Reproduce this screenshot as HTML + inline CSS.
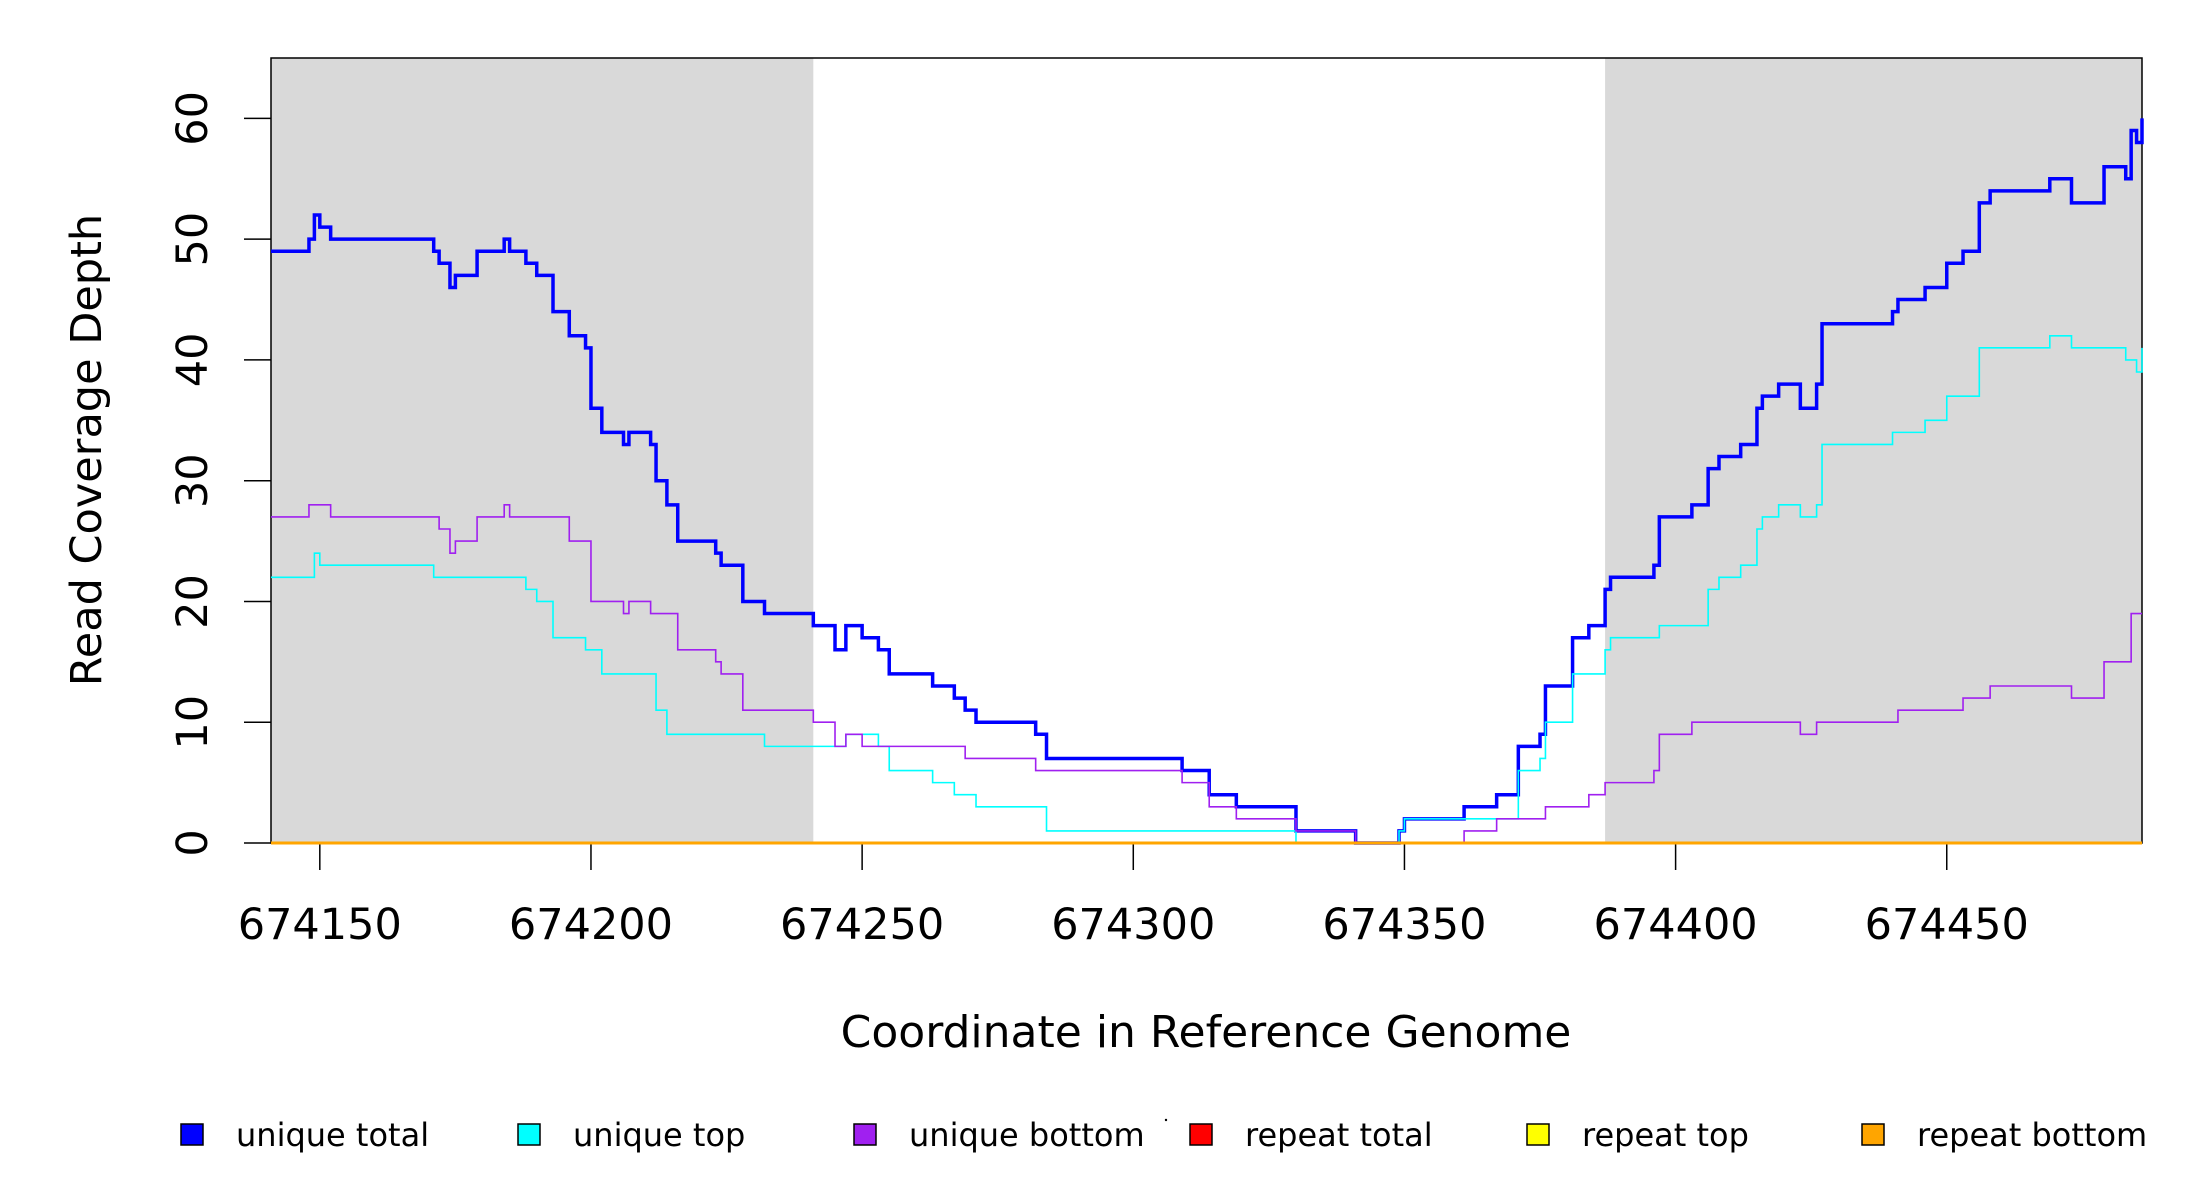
<!DOCTYPE html>
<html><head><meta charset="utf-8"><title>Read Coverage Depth</title>
<style>
html,body{margin:0;padding:0;background:#fff;}
svg{display:block;font-family:"DejaVu Sans","Liberation Sans",sans-serif;}
</style></head>
<body>
<svg id="chart" width="2200" height="1200" viewBox="0 0 2200 1200" xmlns="http://www.w3.org/2000/svg">
<g id="shade"></g>
<g id="axes"></g>
<g id="series"></g>
<text x="1206" y="1047" font-size="44" text-anchor="middle">Coordinate in Reference Genome</text>
<text transform="translate(101,450) rotate(-90)" font-size="43" text-anchor="middle">Read Coverage Depth</text>
<g id="legend"></g>
<circle cx="1166" cy="1120" r="1.2" fill="#000"></circle>
</svg>
<script>
// ---- data ----
const xMin = 674141, xMax = 674486;
const yMin = 0, yMax = 65;
const xTicks = [674150, 674200, 674250, 674300, 674350, 674400, 674450];
const yTicks = [0, 10, 20, 30, 40, 50, 60];
const shadeStarts = [674141, 674387];
const shadeEnds = [674241, 674486];

const totalX = [674141,674148,674149,674150,674152,674171,674172,674174,674175,674179,674184,674185,674188,674190,674193,674196,674199,674200,674202,674206,674207,674211,674212,674214,674216,674223,674224,674228,674232,674241,674245,674247,674250,674253,674255,674263,674267,674269,674271,674282,674284,674309,674314,674319,674330,674341,674349,674350,674361,674367,674371,674375,674376,674381,674384,674387,674388,674396,674397,674403,674406,674408,674412,674415,674416,674419,674423,674426,674427,674440,674441,674446,674450,674453,674456,674458,674469,674473,674479,674483,674484,674485,674486];
const totalY = [49,50,52,51,50,49,48,46,47,49,50,49,48,47,44,42,41,36,34,33,34,33,30,28,25,24,23,20,19,18,16,18,17,16,14,13,12,11,10,9,7,6,4,3,1,0,1,2,3,4,8,9,13,17,18,21,22,23,27,28,31,32,33,36,37,38,36,38,43,44,45,46,48,49,53,54,55,53,56,55,59,58,60];

const topX = [674141,674149,674150,674171,674188,674190,674193,674199,674202,674212,674214,674232,674247,674253,674255,674263,674267,674271,674284,674330,674349,674350,674371,674375,674376,674381,674387,674388,674397,674406,674408,674412,674415,674416,674419,674423,674426,674427,674440,674446,674450,674456,674469,674473,674483,674485,674486];
const topY = [22,24,23,22,21,20,17,16,14,11,9,8,9,8,6,5,4,3,1,0,1,2,6,7,10,14,16,17,18,21,22,23,26,27,28,27,28,33,34,35,37,41,42,41,40,39,41];

const bottomX = [674141,674148,674152,674172,674174,674175,674179,674184,674185,674196,674200,674206,674207,674211,674216,674223,674224,674228,674241,674245,674247,674250,674269,674282,674309,674314,674319,674330,674341,674361,674367,674376,674384,674387,674396,674397,674403,674423,674426,674441,674453,674458,674473,674479,674484];
const bottomY = [27,28,27,26,24,25,27,28,27,25,20,19,20,19,16,15,14,11,10,8,9,8,7,6,5,3,2,1,0,1,2,3,4,5,6,9,10,9,10,11,12,13,12,15,19];

const repeatX = [674141];
const repeatTotalY = [0];
const repeatTopY = [0];
const repeatBottomY = [0];

const legendLabels = ["unique total","unique top","unique bottom","repeat total","repeat top","repeat bottom"];
const legendColors = ["#0000ff","#00ffff","#a020f0","#ff0000","#ffff00","#ffa500"];

// ---- layout ----
const L = 271, R = 2142, T = 58, B = 843;
const sx = v => L + (v - xMin) / (xMax - xMin) * (R - L);
const sy = v => B - (v - yMin) / (yMax - yMin) * (B - T);
const NS = "http://www.w3.org/2000/svg";
function mk(tag, attrs, parent) {
  const e = document.createElementNS(NS, tag);
  for (const k in attrs) e.setAttribute(k, attrs[k]);
  parent.appendChild(e);
  return e;
}

const shade = document.getElementById('shade');
shadeStarts.forEach((s, i) => {
  const r = mk('rect', {x: sx(s), y: T, width: sx(shadeEnds[i]) - sx(s), height: B - T, fill: '#d9d9d9'}, shade);
  
  
});

function stepPath(xs, ys) {
  let d = 'M' + sx(xs[0]) + ' ' + sy(ys[0]);
  for (let i = 1; i < xs.length; i++) {
    d += ' H' + sx(xs[i]) + ' V' + sy(ys[i]);
  }
  d += ' H' + sx(xMax);
  return d;
}

const axes = document.getElementById('axes');
const box = mk('rect', {x: L, y: T, width: R - L, height: B - T, fill: 'none', stroke: '#000', 'stroke-width': 1.5}, axes);


xTicks.forEach(v => {
  const t = mk('line', {x1: sx(v), x2: sx(v), y1: B, y2: B + 27, stroke: '#000', 'stroke-width': 1.5}, axes);
  
  
  const lb = mk('text', {x: sx(v), y: 939, 'font-size': 43, 'text-anchor': 'middle'}, axes);
  lb.textContent = v;
  
  
});
yTicks.forEach(v => {
  const t = mk('line', {x1: L - 27, x2: L, y1: sy(v), y2: sy(v), stroke: '#000', 'stroke-width': 1.5}, axes);
  
  
  const lb = mk('text', {transform: 'translate(207,' + sy(v) + ') rotate(-90)', 'font-size': 43, 'text-anchor': 'middle'}, axes);
  lb.textContent = v;
  
  
});

const series = document.getElementById('series');
const defs = [
  [totalX, totalY, '#0000ff', 3.5, 'line-unique-total'],
  [topX, topY, '#00ffff', 1.6, 'line-unique-top'],
  [bottomX, bottomY, '#a020f0', 1.6, 'line-unique-bottom'],
  [repeatX, repeatTotalY, '#ff0000', 3, 'line-repeat-total'],
  [repeatX, repeatTopY, '#ffff00', 3, 'line-repeat-top'],
  [repeatX, repeatBottomY, '#ffa500', 3, 'line-repeat-bottom']
];
defs.forEach(d => {
  const p = mk('path', {d: stepPath(d[0], d[1]), fill: 'none', stroke: d[2], 'stroke-width': d[3]}, series);
  
  
});

const legend = document.getElementById('legend');
const boxXs = [181, 518, 854, 1190, 1527, 1862];
legendLabels.forEach((lab, i) => {
  const g = mk('g', {}, legend);
  
  
  mk('rect', {x: boxXs[i], y: 1124, width: 22, height: 21, fill: legendColors[i], stroke: '#000', 'stroke-width': 1.5}, g);
  const tx = mk('text', {x: boxXs[i] + 55, y: 1146, 'font-size': 32}, g);
  tx.textContent = lab;
});
</script>
</body></html>
